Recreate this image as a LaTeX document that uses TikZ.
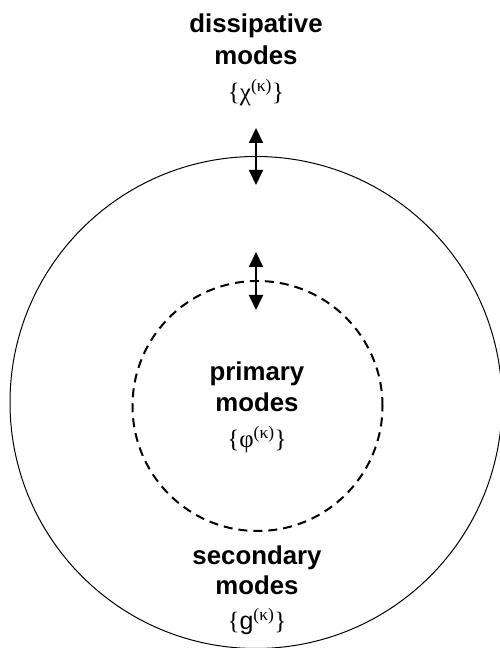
\documentclass[tikz,border=0pt]{standalone}
\usepackage{fontspec}
\setmainfont{Liberation Sans}
\newfontfamily\symfont{Liberation Serif}
\usetikzlibrary{positioning,arrows.meta}
\tikzset{
  lbl/.style={font=\fontsize{25.8}{30}\selectfont\bfseries,anchor=base,inner sep=0pt},
  sym/.style={font=\fontsize{25}{30}\selectfont\symfont,anchor=base,inner sep=0pt},
  updown/.style={{Triangle[width=14pt,length=15pt]}-{Triangle[width=14pt,length=15pt]},line width=2pt}
}
\begin{document}
\begin{tikzpicture}[x=1pt,y=1pt]
  \useasboundingbox (0,0) rectangle (500,648);
  % mode regions
  \node[circle,draw,line width=1pt,minimum size=492pt,inner sep=0pt] (outer) at (256,245.5) {};
  \node[circle,draw,dashed,dash pattern=on 9pt off 6pt,line width=2pt,minimum size=250pt,inner sep=0pt] (inner) at (257.5,242) {};

  % labels
  \node[lbl] (dissip) at (256,615) {dissipative};
  \node[lbl] (dissipm) at (256,583) {modes};
  \node[sym] (chi) at (256,547) {\{χ\textsuperscript{(κ)}\}};

  \node[lbl] (prim) at (257,267) {primary};
  \node[lbl] (primm) at (257,236) {modes};
  \node[sym] (phi) at (257,200) {\{φ\textsuperscript{(κ)}\}};

  \node[lbl] (second) at (257,83) {secondary};
  \node[lbl] (secondm) at (257,53) {modes};
  \node[sym] (gk) at (257,18) {\{{\rmfamily g}\textsuperscript{(κ)}\}};

  % exchange arrows
  \coordinate (outtop) at (256,520);
  \coordinate (outbot) at (256,463);
  \coordinate (intop) at (256,396);
  \coordinate (inbot) at (256,338);
  \draw[updown] (outtop) -- (outbot);
  \draw[updown] (intop) -- (inbot);
\end{tikzpicture}
\end{document}
